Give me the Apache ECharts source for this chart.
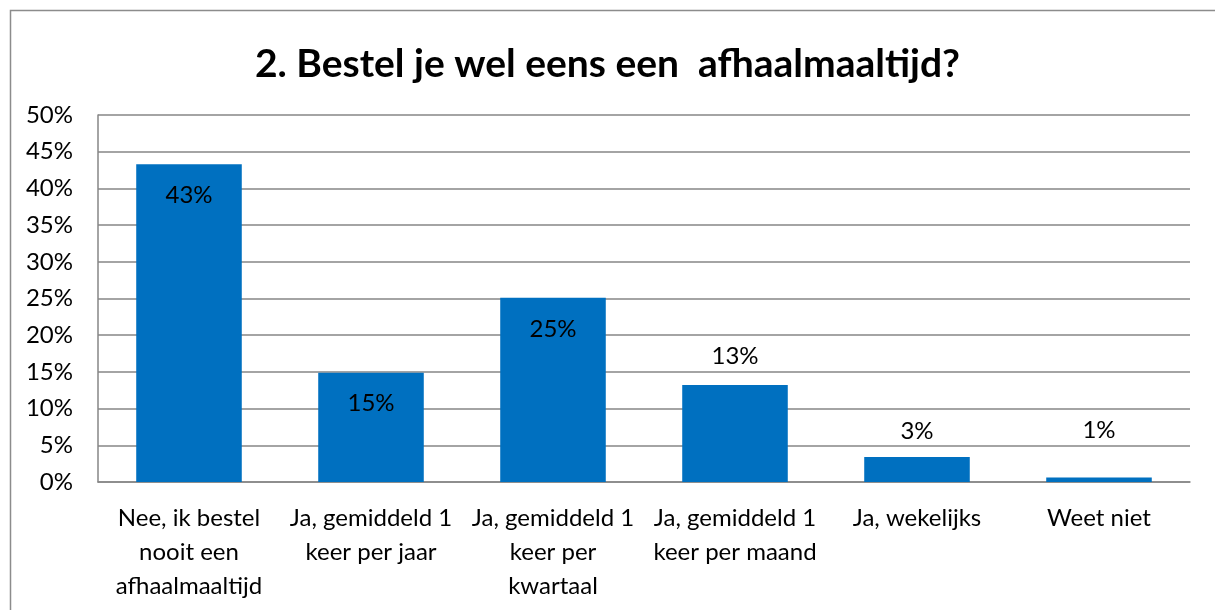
<!DOCTYPE html>
<html>
<head>
<meta charset="utf-8">
<script src="https://cdn.jsdelivr.net/npm/echarts@6/dist/echarts.min.js"></script>
<style>
html, body { margin: 0; padding: 0; background: #fff; }
#chart { width: 1215px; height: 610px; }
</style>
</head>
<body>
<div id="chart"></div>
<script>
// antwoorden (categorieën) en percentages
var categories = [
    'Nee, ik bestel\nnooit een\nafhaalmaaltijd',
    'Ja, gemiddeld 1\nkeer per jaar',
    'Ja, gemiddeld 1\nkeer per\nkwartaal',
    'Ja, gemiddeld 1\nkeer per maand',
    'Ja, wekelijks',
    'Weet niet'
];
var values = [43.3, 14.9, 25.1, 13.2, 3.4, 0.6];
var valueLabels = ['43%', '15%', '25%', '13%', '3%', '1%'];
var titleText = '2. Bestel je wel eens een  afhaalmaaltijd?';

var font = 'Lato, "Open Sans", sans-serif';
var myChart = echarts.init(document.getElementById('chart'));

// label placement per bar (inside for the big ones, above for the small ones)
var labelPos = [
    { position: 'insideTop', distance: 19 },
    { position: 'insideTop', distance: 19 },
    { position: 'insideTop', distance: 19 },
    { position: 'top', distance: 17 },
    { position: 'top', distance: 14 },
    { position: 'top', distance: 35 }
];

var seriesData = values.map(function (v, i) {
    return {
        value: v,
        label: labelPos[i]
    };
});

var option = {
    animation: false,
    textStyle: { fontFamily: font },
    title: {
        text: titleText,
        left: 'center',
        top: 40,
        textStyle: {
            fontFamily: font,
            fontSize: 39,
            fontWeight: 'bold',
            color: '#000'
        }
    },
    graphic: [{
        type: 'rect',
        shape: { x: 10.5, y: 10.5, width: 1400, height: 800 },
        style: { fill: 'none', stroke: '#8c8c8c', lineWidth: 1.5 },
        silent: true
    }],
    grid: {
        left: 98,
        right: 25,
        top: 115,
        bottom: 128
    },
    xAxis: {
        type: 'category',
        data: categories,
        axisLine: { show: true, lineStyle: { color: '#868686', width: 1.5 } },
        axisTick: { show: false },
        axisLabel: {
            interval: 0,
            margin: 19,
            fontSize: 24,
            lineHeight: 34,
            color: '#000',
            fontFamily: font
        }
    },
    yAxis: {
        type: 'value',
        min: 0,
        max: 50,
        interval: 5,
        axisLine: { show: true, lineStyle: { color: '#868686', width: 1.5 } },
        axisTick: { show: false },
        splitLine: { lineStyle: { color: '#868686', width: 1.5 } },
        axisLabel: {
            margin: 25,
            fontSize: 24,
            color: '#000',
            fontFamily: font,
            formatter: '{value}%'
        }
    },
    series: [{
        type: 'bar',
        data: seriesData,
        barWidth: '58%',
        itemStyle: { color: '#0070C0' },
        label: {
            show: true,
            fontSize: 24,
            color: '#000',
            fontFamily: font,
            formatter: function (p) {
                return valueLabels[p.dataIndex];
            }
        }
    }]
};
myChart.setOption(option);
</script>
</body>
</html>
